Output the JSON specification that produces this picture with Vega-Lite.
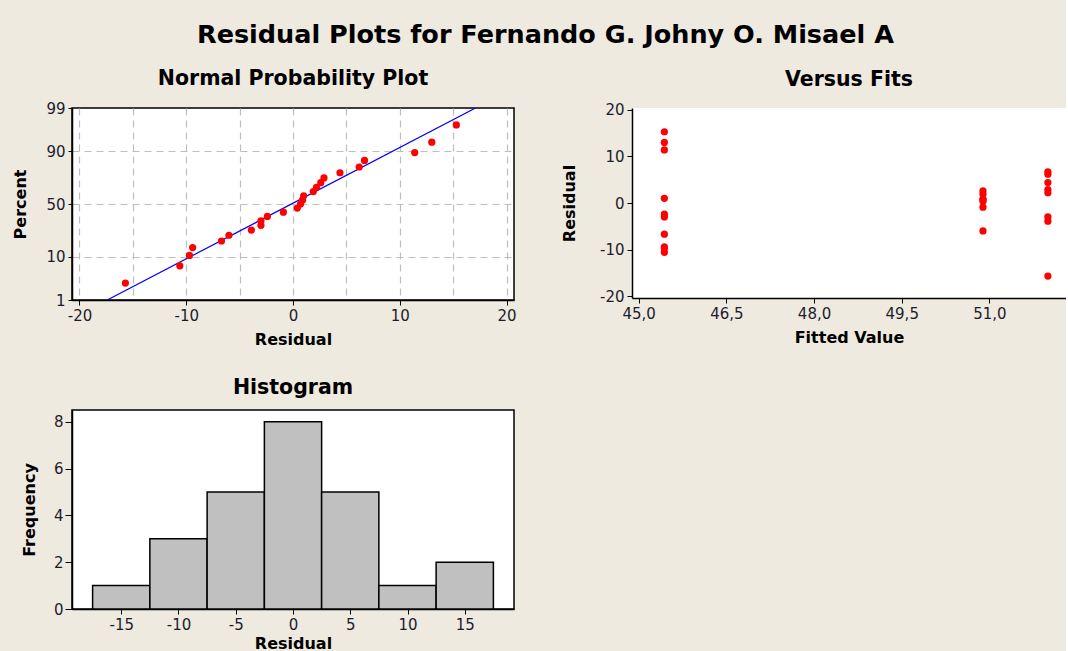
{
  "$schema": "https://vega.github.io/schema/vega-lite/v6.json",
  "background": "#EEEAE0",
  "padding": {"left": 12, "top": 23, "right": 0, "bottom": 0},
  "title": {
    "text": "Residual Plots for Fernando G. Johny O. Misael A",
    "font": "DejaVu Sans",
    "fontSize": 25.5,
    "fontWeight": "bold",
    "color": "#000000",
    "anchor": "start",
    "dx": 125,
    "offset": 19
  },
  "datasets": {
    "res": [
      {"residual": -15.7, "fit": 52.0, "percent": 2.76},
      {"residual": -10.6, "fit": 45.44, "percent": 6.69},
      {"residual": -9.7, "fit": 45.44, "percent": 10.63},
      {"residual": -9.4, "fit": 45.44, "percent": 14.57},
      {"residual": -6.7, "fit": 45.44, "percent": 18.5},
      {"residual": -6.0, "fit": 50.89, "percent": 22.44},
      {"residual": -3.9, "fit": 52.0, "percent": 26.38},
      {"residual": -3.0, "fit": 52.0, "percent": 30.31},
      {"residual": -3.0, "fit": 45.44, "percent": 34.25},
      {"residual": -2.4, "fit": 45.44, "percent": 38.19},
      {"residual": -0.9, "fit": 50.89, "percent": 42.13},
      {"residual": 0.4, "fit": 50.89, "percent": 46.06},
      {"residual": 0.7, "fit": 50.89, "percent": 50.0},
      {"residual": 0.9, "fit": 50.89, "percent": 53.94},
      {"residual": 1.0, "fit": 45.44, "percent": 57.87},
      {"residual": 1.9, "fit": 50.89, "percent": 61.81},
      {"residual": 2.2, "fit": 52.0, "percent": 65.75},
      {"residual": 2.6, "fit": 50.89, "percent": 69.69},
      {"residual": 2.9, "fit": 52.0, "percent": 73.62},
      {"residual": 4.4, "fit": 52.0, "percent": 77.56},
      {"residual": 6.2, "fit": 52.0, "percent": 81.5},
      {"residual": 6.7, "fit": 52.0, "percent": 85.43},
      {"residual": 11.4, "fit": 45.44, "percent": 89.37},
      {"residual": 13.0, "fit": 45.44, "percent": 93.31},
      {"residual": 15.3, "fit": 45.44, "percent": 97.24}
    ],
    "fitline": [
      {"residual": -17.4, "percent": 1},
      {"residual": 17.1, "percent": 99}
    ]
  },
  "config": {
    "view": {"stroke": "#000000", "strokeWidth": 1.5, "fill": "#FFFFFF"},
    "title": {"font": "DejaVu Sans", "fontSize": 20.5, "fontWeight": "bold", "color": "#000000", "frame": "group", "offset": 12},
    "axis": {
      "labelFont": "DejaVu Sans",
      "labelFontSize": 15,
      "labelColor": "#1c1c2c",
      "labelExpr": "replace(datum.label, '\u2212', '-')",
      "titleFont": "DejaVu Sans",
      "titleFontSize": 16,
      "titleFontWeight": "bold",
      "titleColor": "#000000",
      "domainColor": "#000000",
      "domainWidth": 1.5,
      "tickColor": "#000000",
      "tickSize": 5,
      "labelPadding": 3,
      "titlePadding": 8,
      "grid": false
    }
  },
  "columns": 2,
  "spacing": {"row": 110, "column": 118},
  "bounds": "flush",
  "concat": [
    {
      "width": 442,
      "height": 192,
      "title": {"text": "Normal Probability Plot"},
      "layer": [
        {
          "data": {"name": "fitline"},
          "transform": [{"calculate": "quantileNormal(datum.percent / 100)", "as": "z"}],
          "mark": {"type": "line", "color": "#0000FF", "strokeWidth": 1.2, "clip": true},
          "encoding": {
            "x": {
              "field": "residual",
              "type": "quantitative",
              "scale": {"domain": [-20.7, 20.7], "nice": false, "zero": false},
              "axis": {
                "values": [-20, -15, -10, -5, 0, 5, 10, 15, 20],
                "labelExpr": "datum.value % 10 == 0 ? replace(datum.label, '\u2212', '-') : ''",
                "tickOpacity": {"condition": {"test": "datum.value % 10 != 0", "value": 0}, "value": 1},
                "grid": true,
                "gridColor": "#BEBEBE",
                "gridDash": [7, 5],
                "gridWidth": 1.2,
                "title": "Residual"
              }
            },
            "y": {
              "field": "z",
              "type": "quantitative",
              "scale": {"domain": [-2.3263, 2.3263], "nice": false, "zero": false},
              "axis": {
                "values": [-2.3263, -1.2816, 0, 1.2816, 2.3263],
                "labelExpr": "format(cumulativeNormal(datum.value) * 100, '.0f')",
                "grid": true,
                "gridColor": "#BEBEBE",
                "gridDash": [7, 5],
                "gridWidth": 1.2,
                "gridOpacity": {"condition": {"test": "abs(datum.value) > 2.3", "value": 0}, "value": 1},
                "tickSize": 4,
                "titlePadding": 17,
                "title": "Percent"
              }
            }
          }
        },
        {
          "data": {"name": "res"},
          "transform": [{"calculate": "quantileNormal(datum.percent / 100)", "as": "z"}],
          "mark": {"type": "circle", "color": "#FF0000", "size": 52, "opacity": 1},
          "encoding": {
            "x": {"field": "residual", "type": "quantitative"},
            "y": {"field": "z", "type": "quantitative"}
          }
        }
      ]
    },
    {
      "width": 434,
      "height": 190,
      "title": {"text": "Versus Fits"},
      "view": {"stroke": null, "fill": "#FFFFFF"},
      "layer": [
        {
          "mark": {"type": "rule", "color": "#000000", "strokeWidth": 1.5},
          "encoding": {"y": {"datum": 20.4}}
        },
        {
          "mark": {"type": "rule", "color": "#505050", "strokeWidth": 1.5},
          "encoding": {"y": {"datum": 0}}
        },
        {
          "data": {"name": "res"},
          "mark": {"type": "circle", "color": "#FF0000", "size": 52, "opacity": 1},
          "encoding": {
            "x": {
              "field": "fit",
              "type": "quantitative",
              "scale": {"domain": [44.886, 52.31], "nice": false, "zero": false},
              "axis": {
                "values": [45, 46.5, 48, 49.5, 51],
                "labelExpr": "replace(format(datum.value, '.1f'), '.', ',')",
                "title": "Fitted Value"
              }
            },
            "y": {
              "field": "residual",
              "type": "quantitative",
              "scale": {"domain": [-20.4, 20.4], "nice": false, "zero": false},
              "axis": {"values": [-20, -10, 0, 10, 20], "title": "Residual", "titlePadding": 22}
            }
          }
        }
      ]
    },
    {
      "width": 442,
      "height": 199,
      "title": {"text": "Histogram", "offset": 12},
      "data": {"name": "res"},
      "transform": [
        {"bin": {"anchor": -17.5, "step": 5, "extent": [-17.5, 17.5], "nice": false}, "field": "residual", "as": ["b0", "b1"]},
        {"aggregate": [{"op": "count", "as": "n"}], "groupby": ["b0", "b1"]}
      ],
      "mark": {"type": "rect", "fill": "#C0C0C0", "stroke": "#000000", "strokeWidth": 1.5},
      "encoding": {
        "x": {
          "field": "b0",
          "type": "quantitative",
          "scale": {"domain": [-19.3, 19.3], "nice": false, "zero": false},
          "axis": {"values": [-15, -10, -5, 0, 5, 10, 15], "title": "Residual", "titlePadding": 3}
        },
        "x2": {"field": "b1"},
        "y": {
          "field": "n",
          "type": "quantitative",
          "scale": {"domain": [0, 8.5], "nice": false},
          "axis": {"values": [0, 2, 4, 6, 8], "title": "Frequency", "tickSize": 7, "labelPadding": 2, "titlePadding": 16}
        },
        "y2": {"datum": 0}
      }
    }
  ]
}
